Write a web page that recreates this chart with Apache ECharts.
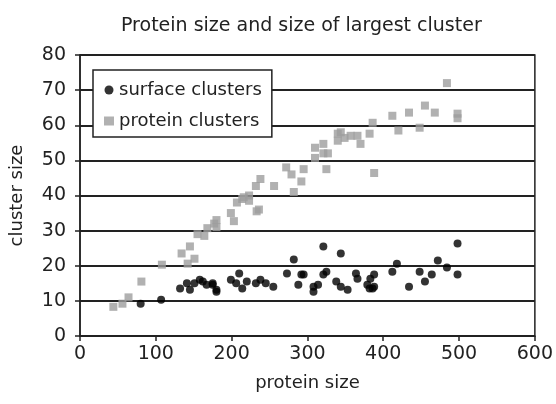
<!DOCTYPE html>
<html>
<head>
<meta charset="utf-8">
<title>Protein size and size of largest cluster</title>
<script src="https://cdn.jsdelivr.net/npm/echarts@6/dist/echarts.min.js"></script>
<style>
  html, body { margin: 0; padding: 0; background: #fff; }
  #chart { width: 556px; height: 404px; }
</style>
</head>
<body>
<div id="chart"></div>
<script>
  // surface clusters: [protein size, cluster size]
  const surfaceClusters = [
    [80, 9.2], [107, 10.3], [132, 13.5], [141, 15], [145, 13.2], [151, 15], [158, 16],
    [162, 15.5], [167, 14.6], [175, 15], [180, 13.2], [180, 12.6], [175, 14.6],
    [199, 16], [206, 15], [210, 17.8], [214, 13.5], [220, 15.5], [232, 15], [238, 16],
    [245, 15], [255, 14], [273, 17.8], [282, 21.8], [288, 14.6], [292, 17.5], [295, 17.5],
    [308, 14], [308, 12.6], [314, 14.6], [321, 17.5], [321, 25.5], [325, 18.3],
    [338, 15.5], [344, 23.5], [344, 14], [353, 13.2], [364, 17.8], [366, 16.3],
    [379, 14.6], [382, 13.5], [383, 16.3], [386, 13.5], [388, 17.5], [388, 14],
    [412, 18.3], [418, 20.6], [434, 14], [448, 18.3], [455, 15.5], [464, 17.5],
    [472, 21.5], [484, 19.5], [498, 17.5], [498, 26.3]
  ]

  // protein clusters: [protein size, cluster size]
  const proteinClusters = [
    [44, 8.3], [56, 9.2], [64, 11], [81, 15.5], [108, 20.3], [134, 23.5], [142, 20.6],
    [145, 25.5], [151, 22], [155, 29], [164, 28.5], [168, 30.7], [177, 32], [180, 33],
    [180, 31], [199, 35], [203, 32.7], [207, 38], [214, 39], [216, 39.5], [223, 38.5],
    [223, 40], [232, 42.7], [233, 35.5], [236, 36], [238, 44.7], [256, 42.7],
    [272, 48], [279, 46], [282, 41], [292, 44], [295, 47.5], [310, 50.7], [310, 53.6],
    [321, 54.7], [321, 52], [325, 47.5], [327, 52], [340, 55.6], [340, 57.6], [344, 58],
    [349, 56.4], [357, 57], [366, 57], [370, 54.7], [382, 57.6], [386, 60.7], [388, 46.4],
    [412, 62.7], [420, 58.5], [434, 63.6], [448, 59.3], [455, 65.6], [468, 63.6],
    [484, 72], [498, 63.3], [498, 62]
  ]

  const seriesNames = ['surface clusters', 'protein clusters']

  const chart = echarts.init(document.getElementById('chart'))
  const font = 'DejaVu Sans, sans-serif'

  chart.setOption({
    animation: false,
    textStyle: { fontFamily: font },
    title: {
      text: 'Protein size and size of largest cluster',
      left: 116,
      top: 12,
      textStyle: { fontFamily: font, fontSize: 19, fontWeight: 'normal', color: '#222' }
    },
    legend: {
      orient: 'vertical',
      left: 93,
      top: 70,
      padding: [11, 10, 7, 11],
      itemGap: 13,
      itemWidth: 10,
      itemHeight: 9,
      backgroundColor: '#fff',
      borderColor: '#222',
      borderWidth: 1.5,
      borderRadius: 0,
      textStyle: { fontFamily: font, fontSize: 18, color: '#222' },
      data: [
        { name: seriesNames[0], icon: 'circle' },
        { name: seriesNames[1], icon: 'rect' }
      ]
    },
    grid: {
      left: 78,
      right: 16,
      top: 55,
      bottom: 68,
      show: true,
      borderColor: '#222',
      borderWidth: 1.5
    },
    xAxis: {
      type: 'value',
      min: 0,
      max: 600,
      interval: 100,
      name: 'protein size',
      nameLocation: 'middle',
      nameGap: 38,
      nameTextStyle: { fontFamily: font, fontSize: 18, color: '#222' },
      axisLine: { show: true, lineStyle: { color: '#222', width: 1.5 } },
      axisTick: { show: true, length: 5, lineStyle: { color: '#222', width: 1.5 } },
      axisLabel: { fontFamily: font, fontSize: 19, color: '#222', margin: 9 },
      splitLine: { show: false }
    },
    yAxis: {
      type: 'value',
      min: 0,
      max: 80,
      interval: 10,
      name: 'cluster size',
      nameLocation: 'middle',
      nameGap: 54,
      nameTextStyle: { fontFamily: font, fontSize: 18, color: '#222' },
      axisLine: { show: true, lineStyle: { color: '#222', width: 1.5 } },
      axisTick: { show: true, length: 5, lineStyle: { color: '#222', width: 1.5 } },
      axisLabel: { fontFamily: font, fontSize: 19, color: '#222', margin: 14 },
      splitLine: { show: true, lineStyle: { color: '#222', width: 1.8 } }
    },
    series: [
      {
        name: seriesNames[0],
        type: 'scatter',
        symbol: 'circle',
        symbolSize: 8,
        itemStyle: { color: '#000' },
        data: surfaceClusters,
        z: 3
      },
      {
        name: seriesNames[1],
        type: 'scatter',
        symbol: 'rect',
        symbolSize: 8,
        itemStyle: { color: '#9e9e9e' },
        data: proteinClusters,
        z: 2
      }
    ]
  })
</script>
</body>
</html>
